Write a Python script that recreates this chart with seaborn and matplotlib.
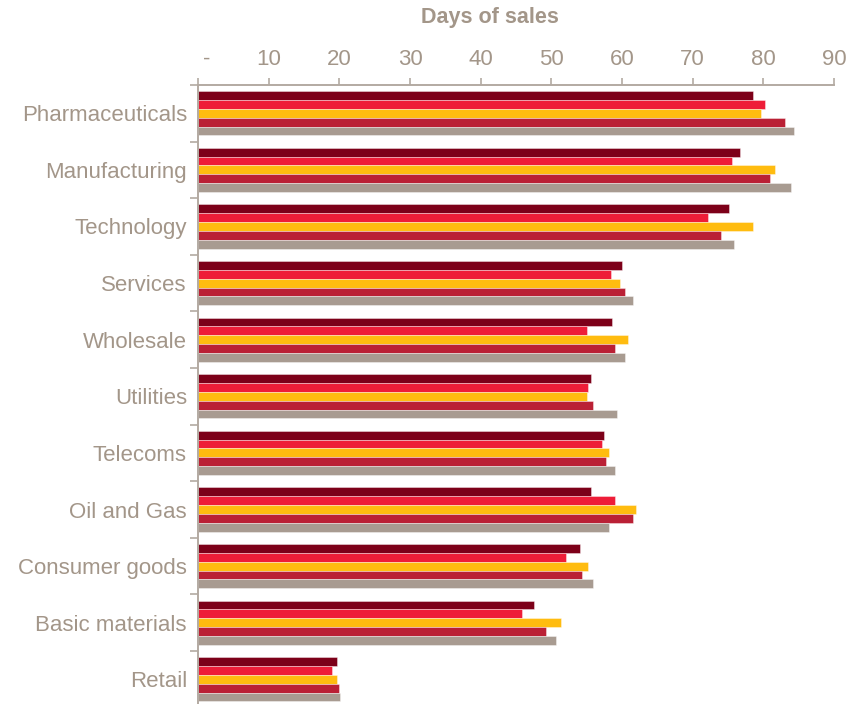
import matplotlib
matplotlib.use("Agg")
import matplotlib.pyplot as plt
import matplotlib.transforms as mtransforms
from matplotlib.ticker import FixedLocator
import numpy as np
import pandas as pd
import seaborn as sns

# Days of sales by sector, five series per sector
sectors = ["Pharmaceuticals", "Manufacturing", "Technology", "Services", "Wholesale",
           "Utilities", "Telecoms", "Oil and Gas", "Consumer goods",
           "Basic materials", "Retail"]
series_names = ["Series 1", "Series 2", "Series 3", "Series 4", "Series 5"]

series_1 = [78.6, 76.7, 75.2, 60.0, 58.6, 55.6, 57.5, 55.6, 54.1, 47.6, 19.7]
series_2 = [80.2, 75.6, 72.2, 58.5, 55.1, 55.2, 57.1, 59.0, 52.1, 45.8, 19.0]
series_3 = [79.7, 81.6, 78.5, 59.7, 60.8, 55.1, 58.2, 62.0, 55.2, 51.4, 19.7]
series_4 = [83.1, 80.9, 74.0, 60.4, 59.0, 55.9, 57.8, 61.6, 54.4, 49.2, 20.0]
series_5 = [84.3, 83.9, 75.9, 61.6, 60.4, 59.3, 59.0, 58.2, 55.9, 50.7, 20.1]

tick_values = [0, 10, 20, 30, 40, 50, 60, 70, 80, 90]
tick_labels = ["-", "10", "20", "30", "40", "50", "60", "70", "80", "90"]

palette = ["#7d0019", "#ee1d38", "#ffbc10", "#ba2035", "#a89b91"]
text_color = "#a39689"
axis_color = "#b3aaa2"

values = [series_1, series_2, series_3, series_4, series_5]
df = pd.DataFrame({
    "sector": np.tile(sectors, len(series_names)),
    "series": np.repeat(series_names, len(sectors)),
    "days": np.concatenate(values),
})

sns.set_theme(style="white")
plt.rcParams["font.family"] = ["Liberation Sans", "DejaVu Sans"]

W, H = 852, 704
fig = plt.figure(figsize=(W / 100, H / 100), dpi=100)
left, right, top, bottom = 198, 834, 85, 707.6
ax = fig.add_axes([left / W, 1 - bottom / H, (right - left) / W, (bottom - top) / H])

sns.barplot(data=df, y="sector", x="days", hue="series", order=sectors,
            hue_order=series_names, palette=palette, orient="h", width=0.78,
            saturation=1, edgecolor=(1, 1, 1, 0.45), linewidth=0.6,
            legend=False, ax=ax)

ax.set_xlim(0, 90)
ax.set_ylim(len(sectors) - 0.5, -0.5)
ax.set_xlabel("")
ax.set_ylabel("")

# Value axis along the top
ax.xaxis.tick_top()
ax.set_xticks(tick_values)
ax.set_xticklabels(tick_labels)
ax.tick_params(axis="x", which="major", direction="out", length=5, width=1.2,
               color=axis_color, labelsize=16, labelcolor=text_color, pad=6)
dash_shift = mtransforms.ScaledTranslation(8.5 / 100, 0, fig.dpi_scale_trans)
first = ax.get_xticklabels()[0]
first.set_transform(first.get_transform() + dash_shift)

# Sector labels with separator ticks between groups
ax.tick_params(axis="y", which="major", length=0, labelsize=16,
               labelcolor=text_color, pad=8)
ax.yaxis.set_minor_locator(FixedLocator(np.arange(-0.5, len(sectors), 1.0)))
ax.tick_params(axis="y", which="minor", direction="out", length=6, width=1.2,
               color=axis_color, left=True)

for side in ["right", "bottom"]:
    ax.spines[side].set_visible(False)
for side in ["top", "left"]:
    ax.spines[side].set_color(axis_color)
    ax.spines[side].set_linewidth(1.4)

fig.text(490 / W, 1 - 18 / H, "Days of sales", ha="center", va="center",
         fontsize=15.5, fontweight="bold", color=text_color)

fig.savefig("out.png", dpi=100)
